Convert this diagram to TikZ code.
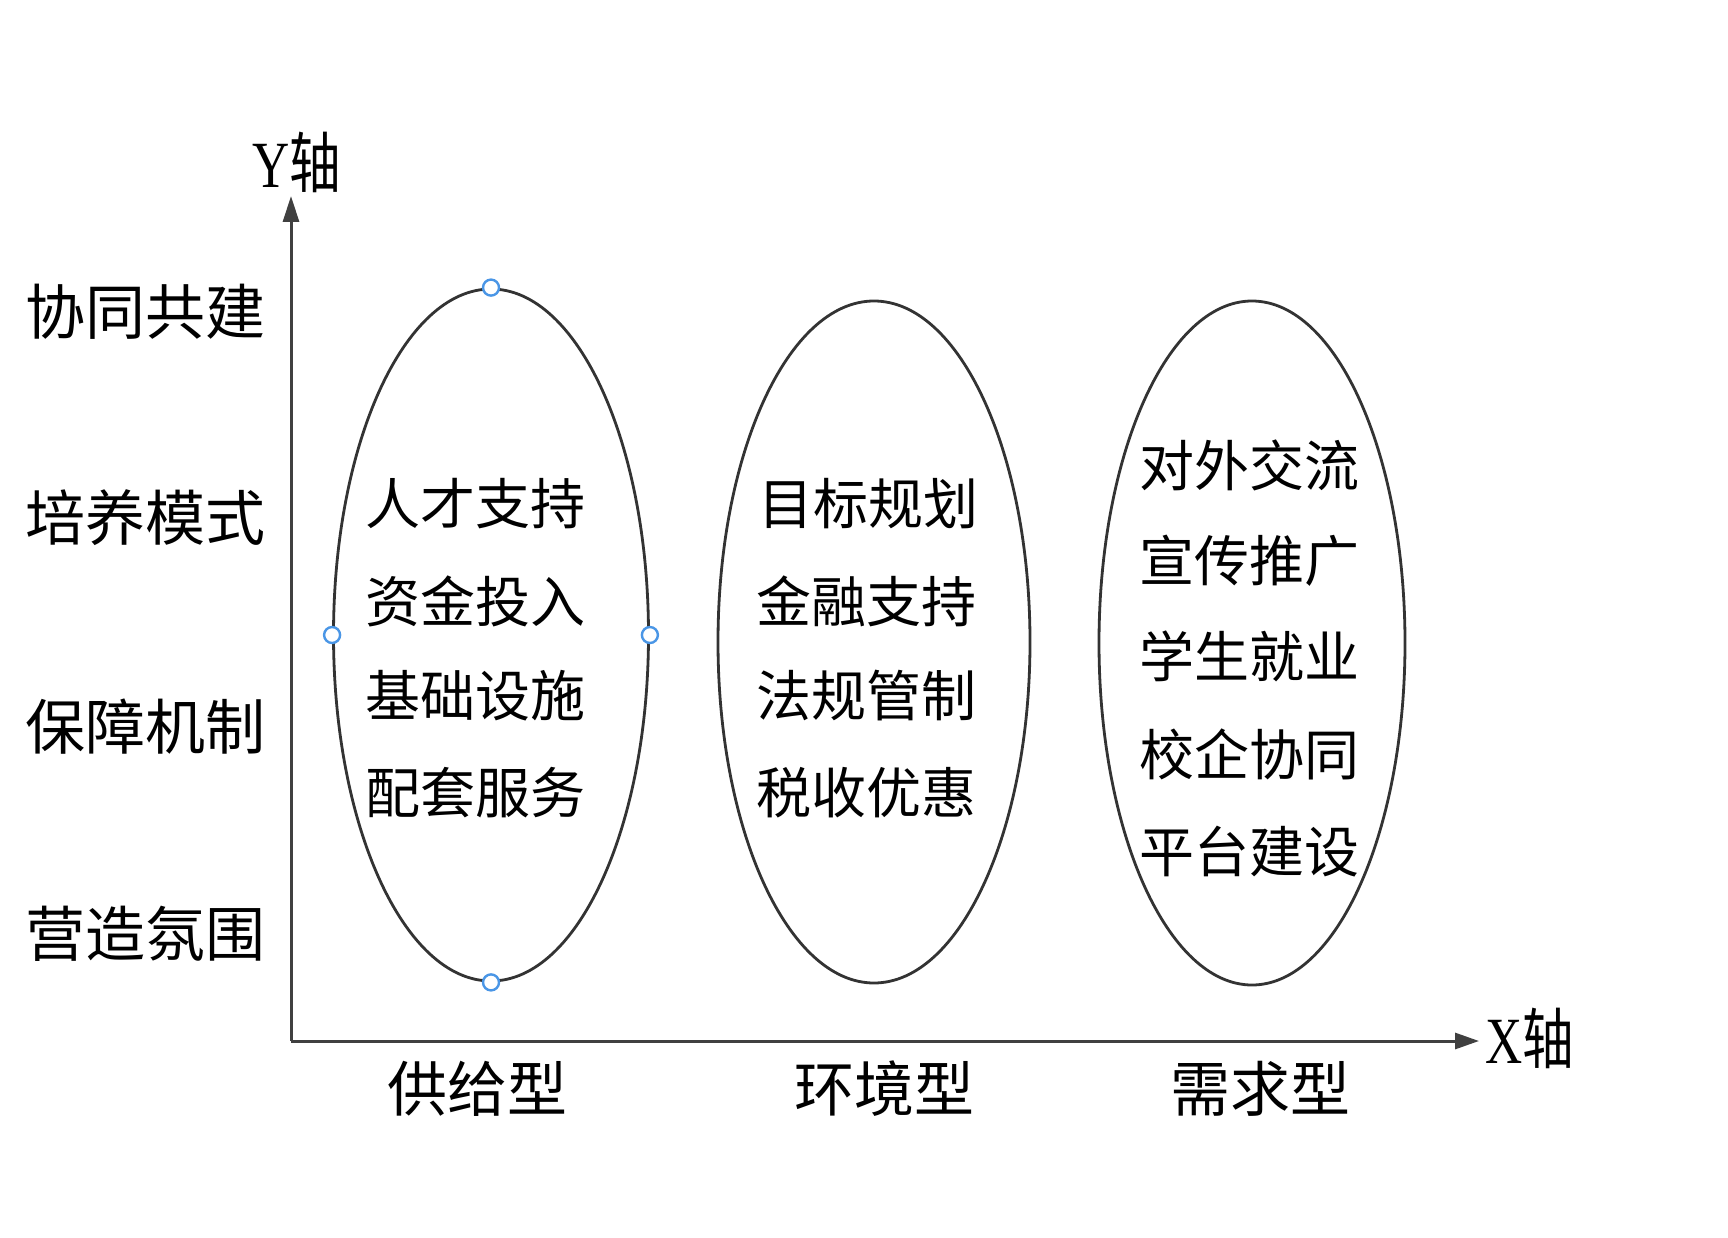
\documentclass[tikz,border=0pt]{standalone}
\usepackage{fontspec}
\setmainfont{Liberation Serif}
\newfontfamily\cjk{Noto Sans CJK SC}
\usetikzlibrary{shapes.geometric,arrows.meta}
\definecolor{handleblue}{RGB}{74,150,230}
\begin{document}
\begin{tikzpicture}[x=1pt,y=-1pt,
  axisline/.style={draw=black!75, line width=3pt},
  oval/.style={draw=black!80, line width=2.8pt, ellipse, inner sep=0pt},
  handle/.style={circle, draw=handleblue, fill=white, line width=2.4pt, minimum size=16pt, inner sep=0pt},
  side/.style={font=\cjk\fontsize{60}{64}\selectfont, inner sep=0pt, text=black},
  cat/.style={font=\cjk\fontsize{60}{64}\selectfont, inner sep=0pt, text=black},
  item/.style={font=\cjk\fontsize{55}{60}\selectfont, inner sep=0pt, text=black},
  axlab/.style={inner sep=0pt, text=black}
]
\useasboundingbox (0,0) rectangle (1728,1238);
\fill[white] (0,0) rectangle (1728,1238);

% axes
\coordinate (O) at (291,1041);
\coordinate (ytip) at (291,196);
\coordinate (xtip) at (1479,1041);
\draw[axisline, -{Triangle[length=26pt,width=16pt]}] (O) -- (ytip);
\draw[axisline, -{Triangle[length=24pt,width=16pt]}] (O) -- (xtip);
\node[axlab] (ylab) at (297,162) {\scalebox{0.78}[1]{\fontsize{66}{70}\selectfont Y{\cjk 轴}}};
\node[axlab] (xlab) at (1530,1038) {\scalebox{0.78}[1]{\fontsize{66}{70}\selectfont X{\cjk 轴}}};

% ellipses
\node[oval, minimum width=315pt, minimum height=692pt] (e1) at (491,635) {};
\node[oval, minimum width=312pt, minimum height=682pt] (e2) at (874,642) {};
\node[oval, minimum width=306pt, minimum height=684pt] (e3) at (1252,643) {};

% handles
\node[handle] (h1) at (e1.north) {};
\node[handle] (h2) at (e1.south) {};
\node[handle] (h3) at (e1.west) {};
\node[handle] (h4) at (e1.east) {};

% left labels
\node[side] (l1) at (145,312) {协同共建};
\node[side] (l2) at (145,518) {培养模式};
\node[side] (l3) at (145,727) {保障机制};
\node[side] (l4) at (145,934) {营造氛围};

% bottom labels
\node[cat] (c1) at (477,1089) {供给型};
\node[cat] (c2) at (884,1089) {环境型};
\node[cat] (c3) at (1260,1089) {需求型};

% ellipse 1 items
\node[item] (a1) at (475,504) {人才支持};
\node[item] (a2) at (475,601) {资金投入};
\node[item] (a3) at (475,696) {基础设施};
\node[item] (a4) at (475,793) {配套服务};

% ellipse 2 items
\node[item] (b1) at (868,504) {目标规划};
\node[item] (b2) at (866,601) {金融支持};
\node[item] (b3) at (866,696) {法规管制};
\node[item] (b4) at (866,793) {税收优惠};

% ellipse 3 items
\node[item] (d1) at (1249,465) {对外交流};
\node[item] (d2) at (1249,561) {宣传推广};
\node[item] (d3) at (1249,656) {学生就业};
\node[item] (d4) at (1249,754) {校企协同};
\node[item] (d5) at (1249,852) {平台建设};
\end{tikzpicture}
\end{document}
